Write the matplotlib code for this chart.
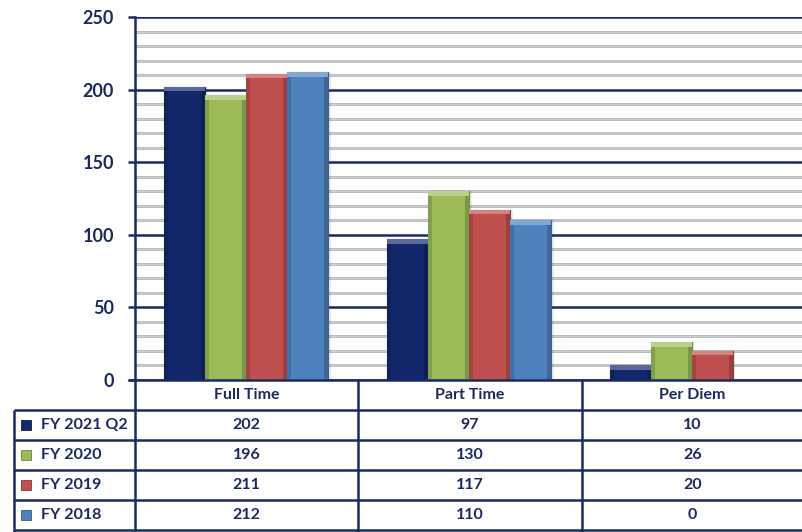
import matplotlib
matplotlib.use("Agg")
import matplotlib.pyplot as plt
import numpy as np
from matplotlib.colors import to_rgb

plt.rcParams['font.family'] = ['Lato', 'DejaVu Sans']

categories = ["Full Time", "Part Time", "Per Diem"]
series_names = ["FY 2021 Q2", "FY 2020", "FY 2019", "FY 2018"]
fy2021q2 = [202, 97, 10]
fy2020 = [196, 130, 26]
fy2019 = [211, 117, 20]
fy2018 = [212, 110, 0]
series_values = [fy2021q2, fy2020, fy2019, fy2018]
colors = ["#13286A", "#9BBB59", "#C0504D", "#4F81BD"]
yticks = [0, 50, 100, 150, 200, 250]

NAVY = "#1B2A63"
TXT = "#1B2A5E"
W, H = 803, 532
fig = plt.figure(figsize=(W / 100, H / 100), dpi=100)

# main plot axes (pixel layout)
L, R, T, B = 135, 803, 17, 380
ax = fig.add_axes([L / W, 1 - B / H, (R - L) / W, (B - T) / H])
ax.set_xlim(-0.5, 2.5)
ax.set_ylim(0, 250)

# gridlines
for v in range(0, 251, 10):
    if v % 50 == 0:
        ax.axhline(v, color=NAVY, lw=1.8, zorder=1)
    else:
        ax.axhline(v, color="#A6A6A6", lw=1.8, zorder=1)
        ax.axhline(v, color="#D9D9D9", lw=0.6, zorder=1.1)

bw = 0.184
x = np.arange(len(categories))

def lighten(c, f):
    r, g, b = to_rgb(c)
    return (r + (1 - r) * f, g + (1 - g) * f, b + (1 - b) * f)

def darken(c, f):
    r, g, b = to_rgb(c)
    return (r * (1 - f), g * (1 - f), b * (1 - f))

for i, (vals, col) in enumerate(zip(series_values, colors)):
    xs = x + (i - 1.5) * bw
    vals = np.array(vals, dtype=float)
    m = vals > 0
    # subtle shadow
    ax.bar(xs[m] + 0.012, vals[m], width=bw, color="#000000", alpha=0.08, zorder=2)
    ax.bar(xs[m], vals[m], width=bw, color=col, edgecolor=darken(col, 0.25), lw=0.8, zorder=3)
    # side shading for 3D bevel
    ax.bar(xs[m] - bw * 0.45, vals[m], width=bw * 0.1, color=darken(col, 0.15), lw=0, zorder=3.5)
    ax.bar(xs[m] + bw * 0.45, vals[m], width=bw * 0.1, color=darken(col, 0.2), lw=0, zorder=3.5)
    cap = np.minimum(vals[m], 3.0)
    ax.bar(xs[m], cap, bottom=vals[m] - cap, width=bw, color=lighten(col, 0.3), lw=0, zorder=3.6)

ax.set_yticks(yticks)
ax.set_yticklabels([str(t) for t in yticks], fontsize=13, fontweight="bold", color=TXT)
ax.tick_params(axis="y", length=5, width=1.8, color=NAVY, pad=10)
ax.set_xticks([])
for s in ["top", "right", "bottom"]:
    ax.spines[s].set_visible(False)
ax.spines["left"].set_color(NAVY)
ax.spines["left"].set_linewidth(1.8)
ax.patch.set_alpha(0)

# table overlay in pixel coordinates
tx = fig.add_axes([0, 0, 1, 1], zorder=5)
tx.set_xlim(0, W)
tx.set_ylim(H, 0)
tx.axis("off")
tx.patch.set_alpha(0)

col_edges = [14, 135, 358, 582, 803]
row_edges = [380, 410, 440, 470, 500, 530]
lw = 1.8
for cx in col_edges[1:4]:
    tx.plot([cx, cx], [380, 532], color=NAVY, lw=lw, solid_capstyle="butt")
tx.plot([col_edges[0], col_edges[0]], [410, 532], color=NAVY, lw=lw, solid_capstyle="butt")
for ry in row_edges[1:]:
    tx.plot([col_edges[0], W], [ry, ry], color=NAVY, lw=lw, solid_capstyle="butt")
tx.plot([128, W], [380, 380], color=NAVY, lw=lw, solid_capstyle="butt")

fs = 11.5
for j, c in enumerate(categories):
    cx = (col_edges[j + 1] + col_edges[j + 2]) / 2
    tx.text(cx, 395, c, ha="center", va="center", fontsize=fs, fontweight="bold", color=TXT)

for i, (name, vals, col) in enumerate(zip(series_names, series_values, colors)):
    cy = (row_edges[i + 1] + row_edges[i + 2]) / 2
    tx.scatter([26], [cy], marker="s", s=42, color=col, edgecolors=darken(col, 0.3), linewidths=0.6)
    tx.text(41, cy, name, ha="left", va="center", fontsize=fs, fontweight="bold", color=TXT)
    for j, v in enumerate(vals):
        cx = (col_edges[j + 1] + col_edges[j + 2]) / 2
        tx.text(cx, cy, str(v), ha="center", va="center", fontsize=fs, fontweight="bold", color=TXT)

fig.savefig("out.png", dpi=100)
